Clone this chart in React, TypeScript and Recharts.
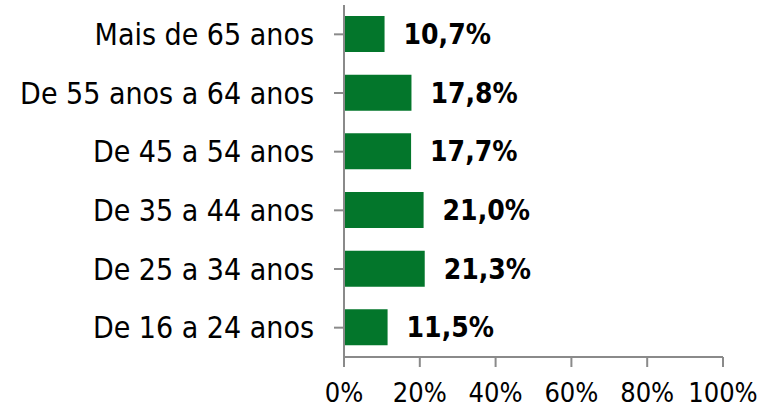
import { BarChart, Bar, XAxis, YAxis, LabelList } from 'recharts'

const categories = [
  'Mais de 65 anos',
  'De 55 anos a 64 anos',
  'De 45 a 54 anos',
  'De 35 a 44 anos',
  'De 25 a 34 anos',
  'De 16 a 24 anos',
]
const shares = [10.7, 17.8, 17.7, 21.0, 21.3, 11.5]
const xTicks = [0, 20, 40, 60, 80, 100]

const data = categories.map((age, i) => ({ age, share: shares[i] }))

const FONT = '"DejaVu Sans Condensed", "DejaVu Sans", sans-serif'
const AXIS = '#8a8a8a'

export default function App() {
  return (
    <div style={{ position: 'absolute', left: 0, top: 0, background: '#fff' }}>
      <BarChart
        width={763}
        height={411}
        data={data}
        layout="vertical"
        margin={{ top: 5, right: 40, bottom: 0, left: 0 }}
        barSize={36}
      >
        <XAxis
          type="number"
          domain={[0, 100]}
          ticks={xTicks}
          tickFormatter={(v) => `${v}%`}
          height={54}
          tickSize={10}
          tickMargin={16}
          stroke={AXIS}
          strokeWidth={2}
          tick={{ fill: '#000', fontSize: 27, fontFamily: FONT }}
          interval={0}
        />
        <YAxis
          type="category"
          dataKey="age"
          width={344}
          tickSize={10}
          tickMargin={20}
          stroke={AXIS}
          strokeWidth={2}
          tick={{ fill: '#000', fontSize: 30, fontFamily: FONT }}
          interval={0}
        />
        <Bar dataKey="share" fill="#03762b" isAnimationActive={false}>
          <LabelList
            dataKey="share"
            position="right"
            offset={19}
            formatter={(v: number) => `${v.toFixed(1).replace('.', ',')}%`}
            style={{ fill: '#000', fontSize: 28, fontWeight: 700, fontFamily: FONT }}
          />
        </Bar>
      </BarChart>
    </div>
  )
}
